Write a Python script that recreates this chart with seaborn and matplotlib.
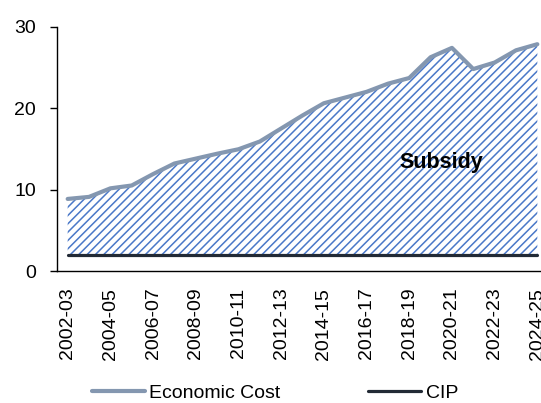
import numpy as np
import pandas as pd
import seaborn as sns
import matplotlib.pyplot as plt

# Data
years = ["2002-03", "2003-04", "2004-05", "2005-06", "2006-07", "2007-08",
         "2008-09", "2009-10", "2010-11", "2011-12", "2012-13", "2013-14",
         "2014-15", "2015-16", "2016-17", "2017-18", "2018-19", "2019-20",
         "2020-21", "2021-22", "2022-23", "2023-24", "2024-25"]
economic_cost = [8.85, 9.1, 10.15, 10.5, 11.9, 13.2, 13.8, 14.4, 14.95, 15.9,
                 17.5, 19.1, 20.6, 21.3, 22.0, 23.0, 23.7, 26.25, 27.4, 24.8,
                 25.6, 27.1, 27.85]
cip = [2.0] * len(years)

df = pd.DataFrame({"year": years, "Economic Cost": economic_cost, "CIP": cip})
df["idx"] = np.arange(len(years))
long_df = df.melt(id_vars=["year", "idx"], value_vars=["Economic Cost", "CIP"],
                  var_name="series", value_name="value")

sns.set_style("white")
plt.rcParams["font.family"] = ["Liberation Sans", "DejaVu Sans"]
plt.rcParams["text.color"] = "black"
plt.rcParams["xtick.color"] = "black"
plt.rcParams["ytick.color"] = "black"
plt.rcParams["hatch.linewidth"] = 1.1
plt.rcParams["hatch.color"] = "#4A78C8"

fig = plt.figure(figsize=(5.41, 4.03), dpi=100)
ax = fig.add_axes([57 / 541, 132 / 403, 491 / 541, 244.3 / 403])

# hatched subsidy area between CIP and economic cost
ax.fill_between(df["idx"], df["CIP"], df["Economic Cost"], facecolor="none",
                edgecolor="#4A78C8", hatch="////", linewidth=0)

sns.lineplot(data=long_df, x="idx", y="value", hue="series",
             palette={"Economic Cost": "#8497B0", "CIP": "#222A35"},
             size="series", sizes={"Economic Cost": 3.0, "CIP": 2.3},
             legend=False, ax=ax)

ax.text(17.5, 13.3, "Subsidy", fontsize=15.5, fontweight="bold",
        ha="center", va="center", color="black")

ax.set_xlim(-0.5, 22.5)
ax.set_ylim(0, 30)
ax.set_yticks([0, 10, 20, 30])
ax.set_xticks(df["idx"][::2])
ax.set_xticklabels(years[::2], rotation=90)
ax.set_xlabel("")
ax.set_ylabel("")
ax.tick_params(axis="y", which="major", direction="out", length=5, width=1,
               color="black", labelsize=14, pad=10, left=True)
ax.tick_params(axis="x", length=0, labelsize=14, pad=12)
sns.despine(ax=ax)
for sp in ["left", "bottom"]:
    ax.spines[sp].set_color("black")
    ax.spines[sp].set_linewidth(1.0)

handles = [plt.Line2D([], [], color="#8497B0", lw=3.0),
           plt.Line2D([], [], color="#222A35", lw=2.3)]
fig.legend(handles, ["Economic Cost", "CIP"], loc="center",
           bbox_to_anchor=(275 / 541, 10 / 403), ncol=2, frameon=False,
           fontsize=14, handlelength=2.7, handletextpad=0.25,
           columnspacing=4.5)

fig.savefig("out.png", dpi=100)
